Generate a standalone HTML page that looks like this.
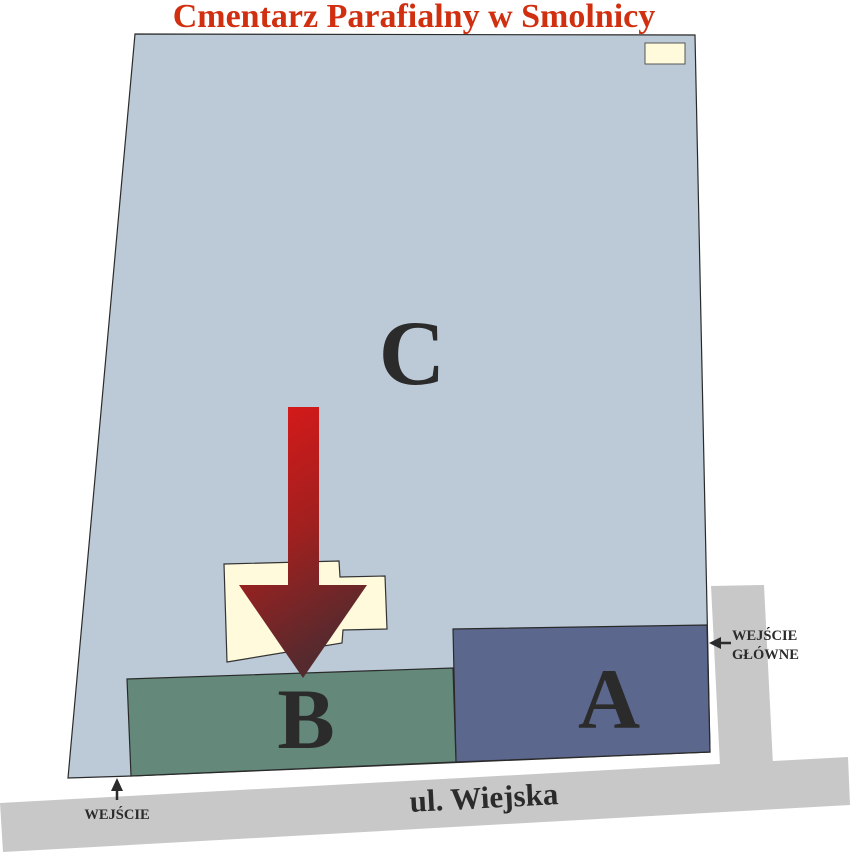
<!DOCTYPE html>
<html><head><meta charset="utf-8"><style>
html,body{margin:0;padding:0;background:#fff;}
svg{display:block;}
text{font-family:"Liberation Serif",serif;font-weight:bold;}
</style></head><body>
<svg width="851" height="853" viewBox="0 0 851 853" xmlns="http://www.w3.org/2000/svg">
<defs>
<linearGradient id="g" x1="0" y1="0" x2="0.3" y2="1">
<stop offset="0" stop-color="#e01818"/>
<stop offset="0.55" stop-color="#a0201f"/>
<stop offset="1" stop-color="#552a2e"/>
</linearGradient>
</defs>
<polygon points="0,803 848,757 850,805 3,852" fill="#c8c8c8"/>
<polygon points="711,586 764,585 773,765 720,766" fill="#c8c8c8"/>
<polygon points="135,34 695,35 710,752 131,776 68,778" fill="#bccad8" stroke="#2a2a2a" stroke-width="1.2"/>
<polygon points="453,629 707,625 710,752 456,762" fill="#5c678d" stroke="#2a2a2a" stroke-width="1.2"/>
<polygon points="127,679 453,668 456,762 131,776" fill="#64887a" stroke="#2a2a2a" stroke-width="1.2"/>
<rect x="645" y="43" width="40" height="21" fill="#fffadc" stroke="#555" stroke-width="1"/>
<polygon points="224,564 339,561 340,577 385,576 387,629 343,630 342,643 227,662" fill="#fffadc" stroke="#333" stroke-width="1.2"/>
<polygon points="288,407 319,407 319,585 367,585 303,678 239,585 288,585" fill="url(#g)"/>
<text x="414" y="27" text-anchor="middle" font-size="34" fill="#d03010">Cmentarz Parafialny w Smolnicy</text>
<text x="412" y="384" text-anchor="middle" font-size="92" fill="#2b2b2b">C</text>
<text x="306" y="748" text-anchor="middle" font-size="86" fill="#2b2b2b">B</text>
<text x="609" y="728" text-anchor="middle" font-size="86" fill="#2b2b2b">A</text>
<text x="484" y="808" text-anchor="middle" font-size="31" fill="#2b2b2b" transform="rotate(-3 484 800)">ul. Wiejska</text>
<text x="117" y="819" text-anchor="middle" font-size="14.5" fill="#2b2b2b">WEJŚCIE</text>
<text x="732" y="640" font-size="14.5" fill="#2b2b2b">WEJŚCIE</text>
<text x="732" y="659" font-size="14.5" fill="#2b2b2b">GŁÓWNE</text>
<line x1="117" y1="800" x2="117" y2="788" stroke="#2b2b2b" stroke-width="2.5"/>
<polygon points="117,778 111,791 123,791" fill="#2b2b2b"/>
<line x1="731" y1="643" x2="719" y2="643" stroke="#2b2b2b" stroke-width="2.5"/>
<polygon points="709,643 721,637 721,649" fill="#2b2b2b"/>
</svg>
</body></html>
